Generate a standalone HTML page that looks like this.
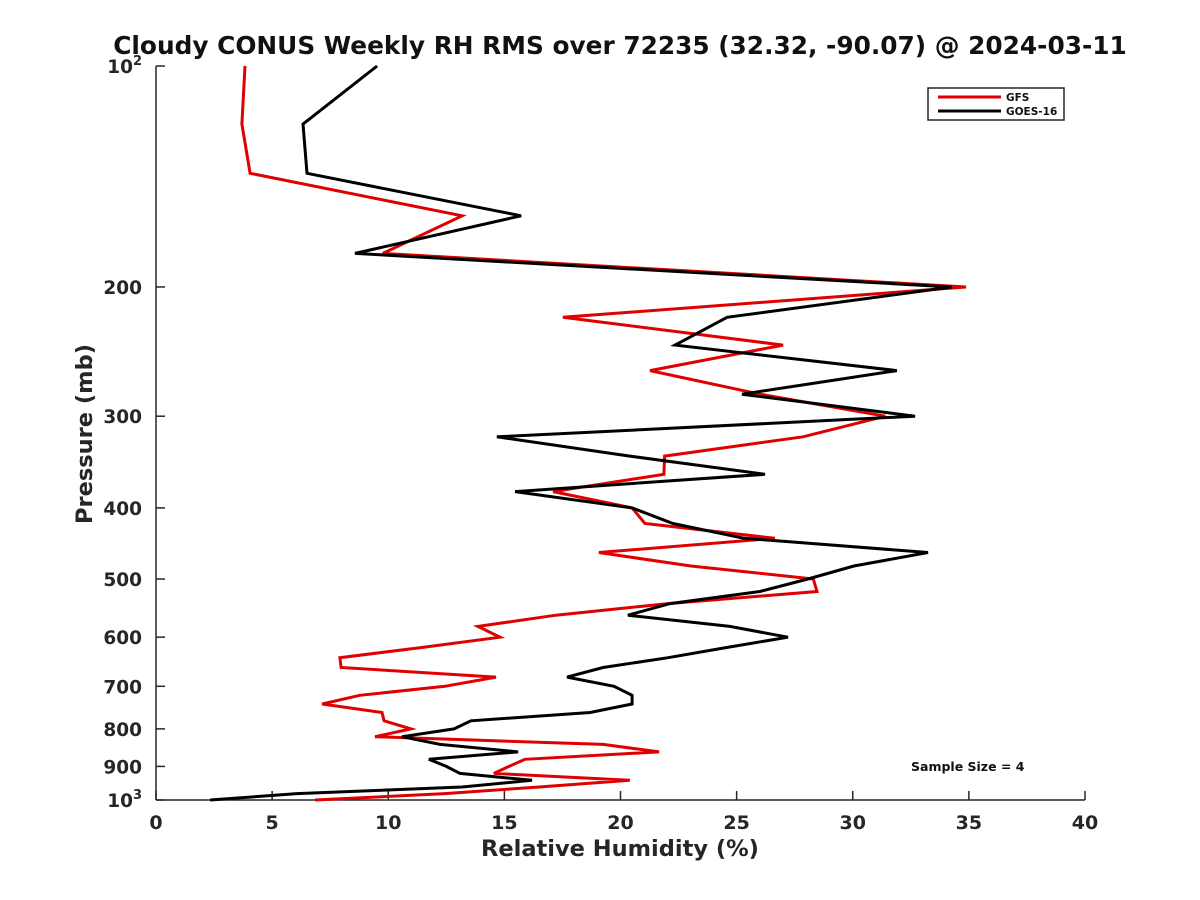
<!DOCTYPE html>
<html><head><meta charset="utf-8"><style>
html,body{margin:0;padding:0;background:#fff;}
svg{display:block;font-family:"DejaVu Sans","Liberation Sans",sans-serif;}
</style></head><body>
<svg id="chart" width="1200" height="900">
<text x="620" y="54" text-anchor="middle" font-size="24.8" font-weight="bold" fill="#111">Cloudy CONUS Weekly RH RMS over 72235 (32.32, -90.07) @ 2024-03-11</text>
<g id="axes"></g>
<g id="series"></g>
<text x="620" y="856" text-anchor="middle" font-size="22.5" font-weight="bold" fill="#262626">Relative Humidity (%)</text>
<text transform="translate(92,434) rotate(-90)" text-anchor="middle" font-size="22.5" font-weight="bold" fill="#262626">Pressure (mb)</text>
<g>
<rect x="928" y="88" width="136" height="32" fill="#fff" stroke="#262626" stroke-width="1.5"/>
<line x1="938" y1="97" x2="1001" y2="97" stroke="#e00000" stroke-width="3"/>
<text x="1006" y="101" font-size="10.5" font-weight="bold" fill="#111">GFS</text>
<line x1="938" y1="111" x2="1001" y2="111" stroke="#000" stroke-width="3"/>
<text x="1006" y="115" font-size="10.5" font-weight="bold" fill="#111">GOES-16</text>
</g>
<text x="911" y="771" font-size="12.5" font-weight="bold" fill="#111">Sample Size = 4</text>
</svg>
<script>
const levels = [100,120,140,160,180,200,220,240,260,280,300,320,340,360,380,400,420,440,460,480,500,520,540,560,580,600,620,640,660,680,700,720,740,760,780,800,820,840,860,880,900,920,940,960,980,1000];
const gfsRMS = [3.83,3.70,4.05,13.18,9.77,34.88,17.52,27.0,21.27,26.0,31.4,27.86,21.9,21.87,17.1,20.5,21.05,26.65,19.07,23.03,28.3,28.46,22.05,17.22,13.86,14.81,11.4,7.92,7.97,14.64,12.44,8.78,7.15,9.73,9.82,10.98,9.43,19.25,21.66,15.89,15.2,14.55,20.4,16.5,12.44,6.85];
const goesRMS = [9.52,6.33,6.50,15.72,8.57,34.27,24.59,22.35,31.9,25.23,32.68,14.68,20.4,26.22,15.46,20.5,22.26,25.32,33.24,30.05,28.07,26.0,22.13,20.32,24.71,27.21,24.54,22.05,19.25,17.7,19.72,20.5,20.5,18.69,13.56,12.83,10.59,12.23,15.59,11.75,12.5,13.09,16.19,13.18,6.07,2.33];
const xTicks = [0,5,10,15,20,25,30,35,40];
const yTicks = [100,200,300,400,500,600,700,800,900,1000];
const yTickLabels = ["10^2","200","300","400","500","600","700","800","900","10^3"];

const X0=156,X1=1085,Y0=66,Y1=800;
function xs(v){return X0+(v-0)/(40-0)*(X1-X0);}
function ys(p){return Y0+Math.log10(p/100)*(Y1-Y0);}
const NS="http://www.w3.org/2000/svg";
const axes=document.getElementById('axes'), series=document.getElementById('series');
function mk(tag,attrs,parent){const e=document.createElementNS(NS,tag);for(const k in attrs)e.setAttribute(k,attrs[k]);parent.appendChild(e);return e;}

let e=mk('line',{x1:X0,y1:Y0,x2:X0,y2:Y1,stroke:'#262626','stroke-width':1.5},axes);


e=mk('line',{x1:X0,y1:Y1,x2:X1,y2:Y1,stroke:'#262626','stroke-width':1.5},axes);



xTicks.forEach(t=>{
  const x=xs(t);
  let l=mk('line',{x1:x,y1:Y1,x2:x,y2:Y1-9,stroke:'#262626','stroke-width':1.5},axes);
  
  
  let tx=mk('text',{x:x,y:829,'text-anchor':'middle','font-size':19,'font-weight':'bold',fill:'#262626'},axes);
  tx.textContent=t;
  
  
});
yTicks.forEach((t,i)=>{
  const y=ys(t);
  let l=mk('line',{x1:X0,y1:y,x2:X0+9,y2:y,stroke:'#262626','stroke-width':1.5},axes);
  
  
  let tx=mk('text',{x:142,y:y+7,'text-anchor':'end','font-size':18.5,'font-weight':'bold',fill:'#262626'},axes);
  const lab=yTickLabels[i];
  if(lab.indexOf('^')>=0){
    const parts=lab.split('^');
    const a=mk('tspan',{},tx); a.textContent=parts[0];
    const b=mk('tspan',{dy:-8,'font-size':13},tx); b.textContent=parts[1];
  } else tx.textContent=lab;
  
  
});

function drawLine(vals,color,name){
  const pts=vals.map((v,i)=>xs(v).toFixed(1)+','+ys(levels[i]).toFixed(1)).join(' ');
  const pl=mk('polyline',{points:pts,fill:'none',stroke:color,'stroke-width':3,'stroke-linejoin':'miter'},series);
  
  
}
drawLine(gfsRMS,'#e00000','gfs-line');
drawLine(goesRMS,'#000000','goes16-line');
</script>
</body></html>
